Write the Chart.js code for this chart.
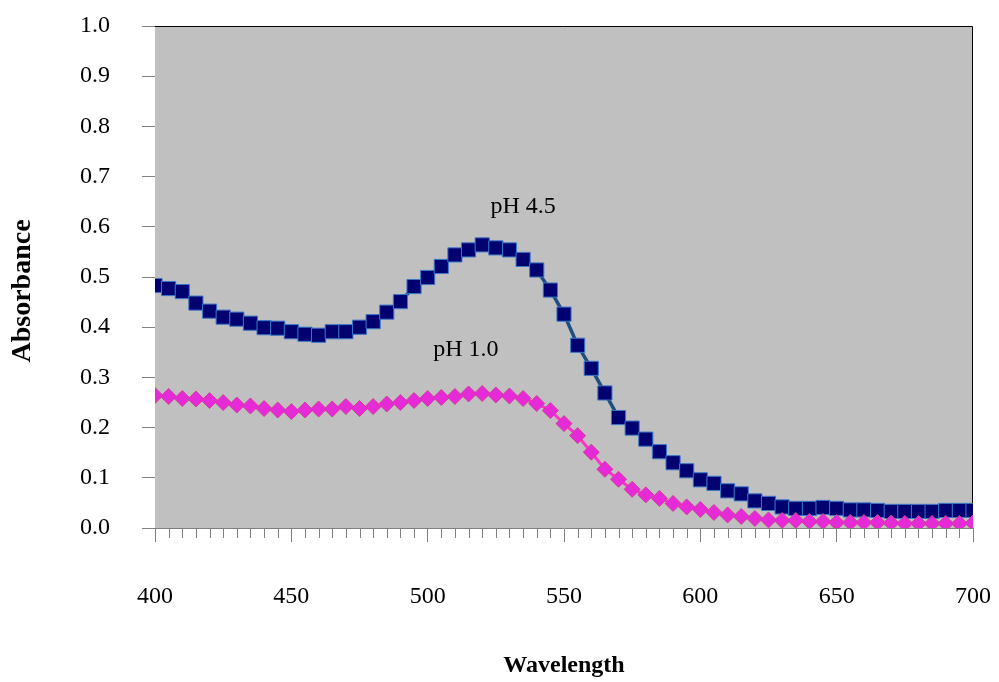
<!DOCTYPE html>
<html>
<head>
<meta charset="utf-8">
<script src="https://cdn.jsdelivr.net/npm/chart.js@4.4.1/dist/chart.umd.min.js"></script>
<style>
  html, body { margin: 0; padding: 0; background: #fff; }
  #wrap { width: 999px; height: 682px; }
</style>
</head>
<body>
<div id="wrap"><canvas id="chart" width="999" height="682"></canvas></div>
<script>
const wavelengths = [400, 405, 410, 415, 420, 425, 430, 435, 440, 445, 450, 455, 460, 465, 470, 475, 480, 485, 490, 495,
  500, 505, 510, 515, 520, 525, 530, 535, 540, 545, 550, 555, 560, 565, 570, 575, 580, 585, 590, 595,
  600, 605, 610, 615, 620, 625, 630, 635, 640, 645, 650, 655, 660, 665, 670, 675, 680, 685, 690, 695, 700];

const absPh45 = [0.483, 0.477, 0.471, 0.448, 0.432, 0.420, 0.416, 0.408, 0.399, 0.398, 0.391, 0.386, 0.384, 0.391, 0.391, 0.400, 0.411, 0.430, 0.451, 0.481,
  0.499, 0.521, 0.544, 0.554, 0.564, 0.558, 0.554, 0.535, 0.514, 0.474, 0.426, 0.364, 0.318, 0.269, 0.220, 0.199, 0.177, 0.152, 0.130, 0.114,
  0.096, 0.089, 0.074, 0.068, 0.054, 0.049, 0.042, 0.039, 0.039, 0.041, 0.039, 0.036, 0.036, 0.035, 0.033, 0.033, 0.033, 0.033, 0.035, 0.035, 0.035];

const absPh10 = [0.264, 0.262, 0.258, 0.257, 0.254, 0.250, 0.245, 0.243, 0.238, 0.235, 0.232, 0.235, 0.237, 0.237, 0.242, 0.238, 0.242, 0.247, 0.250, 0.254,
  0.258, 0.260, 0.262, 0.267, 0.268, 0.265, 0.263, 0.258, 0.248, 0.234, 0.208, 0.184, 0.151, 0.117, 0.097, 0.077, 0.066, 0.059, 0.049, 0.042,
  0.037, 0.031, 0.026, 0.023, 0.019, 0.016, 0.015, 0.015, 0.013, 0.013, 0.011, 0.011, 0.011, 0.011, 0.010, 0.009, 0.009, 0.009, 0.009, 0.009, 0.010];

// curve labels: [text, wavelength, absorbance]
const curveLabels = [
  ['pH 4.5', 535, 0.641],
  ['pH 1.0', 514, 0.355]
];

const minorStep = 5;
const serif = '"Liberation Serif", "Times New Roman", serif';

const toPoints = vals => wavelengths.map((w, i) => ({ x: w, y: vals[i] }));

const plotDecor = {
  id: 'plotDecor',
  beforeDatasetsDraw(chart) {
    const { ctx, chartArea: a } = chart;
    ctx.save();
    ctx.fillStyle = '#c0c0c0';
    ctx.fillRect(a.left, a.top, a.right - a.left, a.bottom - a.top);
    ctx.strokeStyle = '#000';
    ctx.lineWidth = 1;
    ctx.beginPath();
    ctx.moveTo(a.left, a.top + 0.5);
    ctx.lineTo(a.right - 0.5, a.top + 0.5);
    ctx.lineTo(a.right - 0.5, a.bottom);
    ctx.stroke();
    ctx.restore();
  },
  afterDraw(chart) {
    const { ctx, chartArea: a, scales } = chart;
    const x = scales.x, y = scales.y;
    ctx.save();
    // minor ticks on the wavelength axis
    ctx.strokeStyle = '#808080';
    ctx.lineWidth = 1;
    ctx.beginPath();
    for (let v = x.min; v <= x.max; v += minorStep) {
      if (v % 50 === 0) continue;
      const px = Math.round(x.getPixelForValue(v)) + 0.5;
      ctx.moveTo(px, a.bottom);
      ctx.lineTo(px, a.bottom + 10);
    }
    ctx.stroke();
    // curve labels
    ctx.fillStyle = '#000';
    ctx.font = '24px ' + serif;
    ctx.textAlign = 'center';
    ctx.textBaseline = 'middle';
    curveLabels.forEach(([t, w, v]) => {
      ctx.fillText(t, x.getPixelForValue(w), y.getPixelForValue(v));
    });
    ctx.restore();
  }
};

new Chart(document.getElementById('chart'), {
  type: 'line',
  data: {
    datasets: [
      {
        label: 'pH 1.0',
        data: toPoints(absPh10),
        borderColor: '#ff33cc',
        borderWidth: 3,
        pointStyle: 'rectRot',
        pointRadius: 8,
        pointBackgroundColor: '#e62ad8',
        pointBorderColor: '#d0409a',
        pointBorderWidth: 1,
        tension: 0,
        order: 1
      },
      {
        label: 'pH 4.5',
        data: toPoints(absPh45),
        borderColor: '#1f4e80',
        borderWidth: 3.5,
        pointStyle: 'rect',
        pointRadius: 10,
        pointBackgroundColor: '#000070',
        pointBorderColor: '#3a78c8',
        pointBorderWidth: 1,
        tension: 0,
        order: 2
      }
    ]
  },
  options: {
    responsive: false,
    animation: false,
    layout: { padding: { top: 26, right: 26, bottom: 0, left: 0 } },
    plugins: {
      legend: { display: false },
      tooltip: { enabled: false }
    },
    scales: {
      x: {
        type: 'linear',
        min: 400,
        max: 700,
        afterFit: s => { s.height = 154; s.paddingLeft = 0; s.paddingRight = 0; },
        border: { display: true, color: '#808080' },
        grid: { drawOnChartArea: false, tickLength: 14, color: '#808080' },
        ticks: {
          stepSize: 50,
          padding: 40,
          color: '#000',
          font: { family: serif, size: 24 }
        },
        title: {
          display: true,
          text: 'Wavelength',
          color: '#000',
          padding: { top: 0, bottom: 2 },
          font: { family: serif, size: 24, weight: 'bold' }
        }
      },
      y: {
        min: 0,
        max: 1,
        afterFit: s => { s.width = 155; s.paddingTop = 0; s.paddingBottom = 0; },
        border: { display: true, color: '#808080' },
        grid: { drawOnChartArea: false, tickLength: 13, color: '#808080' },
        ticks: {
          stepSize: 0.1,
          padding: 32,
          color: '#000',
          font: { family: serif, size: 24 },
          callback: v => v.toFixed(1)
        },
        title: {
          display: true,
          text: 'Absorbance    ',
          color: '#000',
          padding: { top: 6, bottom: 0 },
          font: { family: serif, size: 28, weight: 'bold' }
        }
      }
    }
  },
  plugins: [plotDecor]
});
</script>
</body>
</html>
